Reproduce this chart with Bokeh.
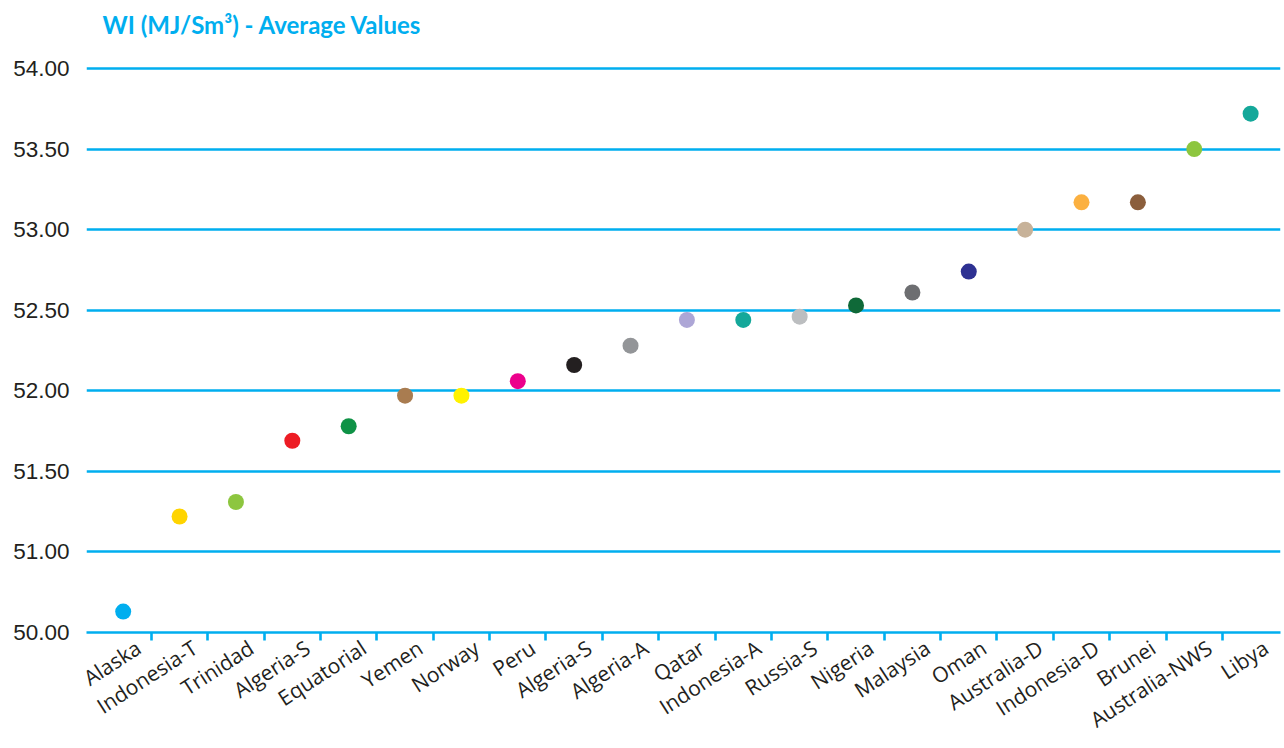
import math
from bokeh.plotting import figure
from bokeh.models import Range1d, FixedTicker, ColumnDataSource, CustomJSTickFormatter, Label
from bokeh.embed import file_html
from bokeh.resources import INLINE

# ---- data ----
terminals = ["Alaska", "Indonesia-T", "Trinidad", "Algeria-S", "Equatorial", "Yemen",
             "Norway", "Peru", "Algeria-S", "Algeria-A", "Qatar", "Indonesia-A",
             "Russia-S", "Nigeria", "Malaysia", "Oman", "Australia-D", "Indonesia-D",
             "Brunei", "Australia-NWS", "Libya"]
wobbe_index = [50.63, 51.22, 51.31, 51.69, 51.78, 51.97, 51.97, 52.06, 52.16, 52.28,
               52.44, 52.44, 52.46, 52.53, 52.61, 52.74, 53.00, 53.17, 53.17, 53.50, 53.72]
dot_colors = ["#00AEEF", "#FFD400", "#8DC63F", "#ED1C24", "#0F9246", "#A97C50",
              "#FFF200", "#EC008C", "#231F20", "#939598", "#ADA6D6", "#14A89A",
              "#BCBEC0", "#0F6938", "#6D6E71", "#2E3192", "#C7B299", "#FBB040",
              "#8B5E3C", "#8DC63F", "#14A89A"]
y_ticks = [50.5, 51.0, 51.5, 52.0, 52.5, 53.0, 53.5, 54.0]
y_tick_labels = ["50.00", "51.00", "51.50", "52.00", "52.50", "53.00", "53.50", "54.00"]
title_text = "WI (MJ/Sm\u00b3) - Average Values"

CYAN = "#00AEEF"
TEXT = "#231F20"
LABEL_SHIFT = 0.27  # rotated category labels sit slightly right of the point

idx = list(range(len(terminals)))
src = ColumnDataSource(dict(x=idx, y=wobbe_index, color=dot_colors))

BORDER_TOP = 60
BORDER_BOTTOM = 115
H = 748

p = figure(width=1284, height=H, output_backend="svg", toolbar_location=None,
           x_range=Range1d(-0.651, 20.53), y_range=Range1d(50.5, 54.05),
           min_border_left=86, min_border_right=4,
           min_border_top=BORDER_TOP, min_border_bottom=BORDER_BOTTOM)
p.outline_line_color = None
p.background_fill_color = "white"

title = Label(x=16, y=36, x_units="screen", y_units="screen",
              text=title_text, text_color=CYAN, text_font="Lato",
              text_font_style="bold", text_font_size="24px",
              text_baseline="alphabetic", text_align="left")
p.add_layout(title, "above")

p.scatter("x", "y", source=src, size=16, color="color", line_color=None)

# y axis
p.yaxis.ticker = FixedTicker(ticks=y_ticks)
p.yaxis.major_label_overrides = {t: l for t, l in zip(y_ticks, y_tick_labels)}
p.yaxis.axis_line_color = None
p.yaxis.major_tick_line_color = None
p.yaxis.minor_tick_line_color = None
p.yaxis.major_tick_out = 0
p.yaxis.major_tick_in = 0
p.yaxis.major_label_standoff = 17
p.yaxis.major_label_text_font = "Liberation Sans"
p.yaxis.major_label_text_font_size = "22.5px"
p.yaxis.major_label_text_color = TEXT

# x axis
p.xaxis.ticker = FixedTicker(ticks=[i + LABEL_SHIFT for i in idx],
                             minor_ticks=[i + 0.5 for i in idx[:-1]])
p.xaxis.formatter = CustomJSTickFormatter(args=dict(names=terminals, shift=LABEL_SHIFT),
                                          code="return names[Math.round(tick - shift)] || '';")
p.xaxis.axis_line_color = CYAN
p.xaxis.axis_line_width = 2.6
p.xaxis.major_tick_line_color = None
p.xaxis.major_tick_out = 0
p.xaxis.major_tick_in = 0
p.xaxis.minor_tick_line_color = CYAN
p.xaxis.minor_tick_line_width = 2.6
p.xaxis.minor_tick_out = 8
p.xaxis.minor_tick_in = 0
p.xaxis.major_label_orientation = math.radians(33)
p.xaxis.major_label_standoff = 5
p.xaxis.major_label_text_font = "Open Sans"
p.xaxis.major_label_text_font_size = "21px"
p.xaxis.major_label_text_color = TEXT

p.xgrid.grid_line_color = None
p.ygrid.ticker = FixedTicker(ticks=y_ticks)
p.ygrid.grid_line_color = CYAN
p.ygrid.grid_line_width = 2.6

open("out.html", "w").write(file_html(p, INLINE))
